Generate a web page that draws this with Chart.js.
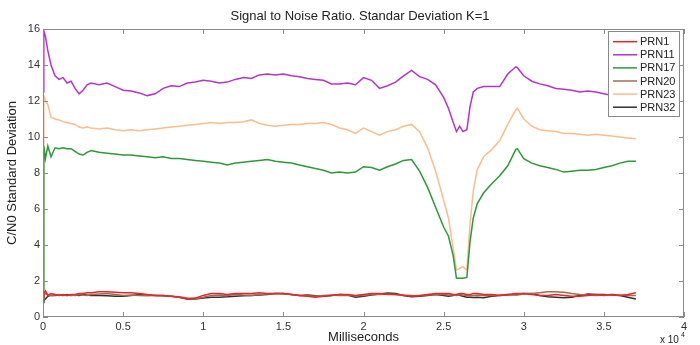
<!DOCTYPE html>
<html><head><meta charset="utf-8">
<script src="https://cdn.jsdelivr.net/npm/chart.js@4.4.1/dist/chart.umd.min.js"></script>
<style>html,body{margin:0;padding:0;background:#fff;}#wrap{width:700px;height:345px;}</style>
</head><body><div id="wrap"><canvas id="c" width="700" height="345"></canvas></div>
<script>
const timesMs = [
  0,50,150,300,500,750,1000,1250,1500,1750,
  2000,2250,2500,2750,3000,3500,4000,4500,5000,5500,
  6000,6500,7000,7500,8000,8500,9000,9500,10000,10500,
  11000,11500,12000,12500,13000,13500,14000,14500,15000,15500,
  16000,16500,17000,17500,18000,18500,19000,19500,20000,20500,
  21000,21500,22000,22500,23000,23500,24000,24500,25000,25300,
  25600,25800,26000,26200,26450,26650,26850,27100,27500,28000,
  28500,29000,29500,29600,30000,30500,31000,31500,32000,32500,
  33000,33500,34000,34500,35000,35500,36000,36500,37000];

const prn1 = [
  1.0,1.3,1.45,1.2,1.3,1.25,1.2,1.25,1.2,1.25,
  1.25,1.3,1.3,1.35,1.35,1.4,1.4,1.38,1.35,1.35,
  1.3,1.25,1.2,1.2,1.15,1.1,1.0,1.05,1.2,1.3,
  1.3,1.25,1.3,1.3,1.3,1.35,1.3,1.3,1.3,1.25,
  1.2,1.15,1.1,1.15,1.2,1.25,1.25,1.2,1.25,1.3,
  1.3,1.25,1.25,1.2,1.15,1.2,1.25,1.3,1.3,1.3,
  1.25,1.25,1.3,1.3,1.25,1.25,1.3,1.3,1.25,1.25,
  1.2,1.25,1.3,1.3,1.3,1.25,1.2,1.2,1.25,1.2,
  1.15,1.15,1.2,1.25,1.2,1.25,1.2,1.25,1.35];

const prn11 = [
  12.5,15.9,15.6,14.8,14.0,13.4,13.2,13.3,13.0,13.1,
  12.7,12.4,12.6,12.9,13.0,12.9,13.0,12.8,12.6,12.55,
  12.45,12.3,12.4,12.7,12.85,12.8,13.0,13.05,13.15,13.1,
  13.0,13.05,13.2,13.3,13.25,13.45,13.5,13.45,13.5,13.4,
  13.35,13.25,13.2,13.15,12.95,12.95,13.0,12.9,13.3,13.15,
  12.7,12.85,13.05,13.4,13.7,13.35,13.2,12.9,12.2,11.6,
  10.8,10.3,10.6,10.3,10.4,11.7,12.5,12.7,12.8,12.8,
  12.8,13.5,13.9,13.85,13.4,13.1,12.95,12.85,12.7,12.65,
  12.6,12.5,12.55,12.5,12.4,12.3,12.25,12.2,12.2];

const prn17 = [
  0.8,9.5,8.8,9.5,8.9,9.4,9.35,9.4,9.35,9.35,
  9.2,9.05,9.0,9.15,9.25,9.15,9.1,9.05,9.0,9.0,
  8.95,8.9,8.85,8.9,8.8,8.8,8.75,8.7,8.65,8.6,
  8.55,8.45,8.55,8.6,8.65,8.7,8.75,8.65,8.6,8.55,
  8.45,8.35,8.25,8.15,8.0,8.05,8.0,8.05,8.35,8.3,
  8.15,8.35,8.5,8.7,8.75,8.1,7.2,6.1,5.0,4.5,
  3.4,2.15,2.15,2.15,2.2,4.2,5.5,6.3,6.9,7.4,
  7.85,8.4,9.3,9.35,8.8,8.55,8.4,8.3,8.2,8.05,
  8.1,8.15,8.15,8.2,8.3,8.4,8.55,8.65,8.65];

const prn20 = [
  1.0,1.2,1.3,1.25,1.2,1.22,1.25,1.22,1.2,1.22,
  1.2,1.25,1.22,1.2,1.25,1.28,1.3,1.25,1.2,1.22,
  1.2,1.18,1.2,1.2,1.15,1.12,1.05,1.02,1.1,1.2,
  1.22,1.2,1.25,1.22,1.2,1.25,1.28,1.3,1.28,1.25,
  1.2,1.18,1.15,1.2,1.22,1.2,1.2,1.18,1.2,1.25,
  1.25,1.28,1.25,1.22,1.2,1.18,1.22,1.25,1.25,1.22,
  1.22,1.2,1.25,1.22,1.2,1.18,1.2,1.22,1.2,1.2,
  1.22,1.25,1.22,1.22,1.28,1.3,1.35,1.4,1.4,1.38,
  1.3,1.25,1.22,1.2,1.22,1.25,1.22,1.2,1.2];

const prn23 = [
  1.0,12.3,12.0,11.8,11.1,11.0,10.95,10.85,10.8,10.75,
  10.7,10.55,10.5,10.55,10.5,10.45,10.5,10.4,10.35,10.4,
  10.35,10.4,10.45,10.5,10.55,10.6,10.65,10.7,10.75,10.8,
  10.75,10.8,10.8,10.85,10.95,10.75,10.65,10.6,10.65,10.7,
  10.7,10.75,10.75,10.8,10.7,10.5,10.4,10.2,10.5,10.3,
  10.1,10.3,10.4,10.6,10.7,10.3,9.4,8.1,6.5,5.5,
  3.8,2.6,2.7,2.8,2.6,5.2,7.0,8.2,8.9,9.3,
  9.8,10.7,11.5,11.6,11.0,10.6,10.4,10.35,10.3,10.2,
  10.2,10.15,10.1,10.15,10.1,10.05,10.0,9.95,9.9];

const prn32 = [
  0.8,0.9,1.0,1.15,1.2,1.2,1.22,1.2,1.25,1.2,
  1.22,1.2,1.25,1.22,1.2,1.2,1.18,1.15,1.15,1.2,
  1.25,1.22,1.2,1.18,1.15,1.1,1.0,1.0,1.05,1.1,
  1.1,1.12,1.15,1.18,1.2,1.22,1.25,1.3,1.3,1.25,
  1.2,1.22,1.18,1.15,1.2,1.25,1.22,1.1,1.15,1.22,
  1.28,1.33,1.3,1.2,1.12,1.15,1.2,1.25,1.2,1.15,
  1.2,1.25,1.2,1.15,1.1,1.1,1.08,1.1,1.07,1.15,
  1.2,1.22,1.25,1.25,1.3,1.3,1.2,1.13,1.1,1.07,
  1.1,1.2,1.28,1.25,1.25,1.22,1.2,1.1,1.0];

const seriesNames = ['PRN1','PRN11','PRN17','PRN20','PRN23','PRN32'];
const seriesValues = [prn1, prn11, prn17, prn20, prn23, prn32];
const seriesColors = ['#e8262b','#b534c8','#2e983a','#a86a4c','#f9bd8e','#303030'];
const xTickValues = [0,5000,10000,15000,20000,25000,30000,35000,40000];
const xTickLabels = ['0','0.5','1','1.5','2','2.5','3','3.5','4'];
const yTickValues = [0,2,4,6,8,10,12,14,16];

const FONT = '"Liberation Sans", Arial, Helvetica, sans-serif';

const datasets = seriesNames.map((name, k) => ({
  label: name,
  data: timesMs.map((t, i) => ({x: t, y: seriesValues[k][i]})),
  borderColor: seriesColors[k],
  backgroundColor: seriesColors[k],
  borderWidth: 1.5,
  pointRadius: 0,
  tension: 0,
  fill: false
}));

const framePlugin = {
  id: 'frame',
  afterDatasetsDraw(chart) {
    const ctx = chart.ctx;
    const a = chart.chartArea;
    const xs = chart.scales.x, ys = chart.scales.y;
    ctx.save();
    ctx.strokeStyle = '#8a8a8a';
    ctx.lineWidth = 1;
    ctx.strokeRect(Math.round(a.left) + 0.5, Math.round(a.top) + 0.5,
                   Math.round(a.right - a.left) - 1, Math.round(a.bottom - a.top) - 1);
    const tl = 5;
    ctx.beginPath();
    xTickValues.forEach(v => {
      const px = Math.round(xs.getPixelForValue(v)) + 0.5;
      ctx.moveTo(px, a.bottom); ctx.lineTo(px, a.bottom - tl);
      ctx.moveTo(px, a.top); ctx.lineTo(px, a.top + tl);
    });
    yTickValues.forEach(v => {
      const py = Math.round(ys.getPixelForValue(v)) + 0.5;
      ctx.moveTo(a.left, py); ctx.lineTo(a.left + tl, py);
      ctx.moveTo(a.right, py); ctx.lineTo(a.right - tl, py);
    });
    ctx.stroke();

    const lx = 608.5, ly = 31.5, lw = 71, lh = 85;
    ctx.fillStyle = '#ffffff';
    ctx.fillRect(lx, ly, lw, lh);
    ctx.strokeStyle = '#8a8a8a';
    ctx.strokeRect(lx, ly, lw, lh);
    ctx.font = '11px ' + FONT;
    ctx.textAlign = 'left';
    ctx.textBaseline = 'middle';
    seriesNames.forEach((name, k) => {
      const y = 41.7 + k * 13.1;
      ctx.strokeStyle = seriesColors[k];
      ctx.lineWidth = 1.5;
      ctx.beginPath(); ctx.moveTo(613, y); ctx.lineTo(637, y); ctx.stroke();
      ctx.fillStyle = '#222';
      ctx.fillText(name, 640, y + 0.5);
    });

    ctx.fillStyle = '#222';
    ctx.textAlign = 'center';
    ctx.textBaseline = 'middle';
    ctx.font = '13px ' + FONT;
    ctx.fillText('Signal to Noise Ratio. Standar Deviation K=1', 360, 16);
    ctx.fillText('Milliseconds', (a.left + a.right) / 2, 337);
    ctx.save();
    ctx.translate(12, (a.top + a.bottom) / 2);
    ctx.rotate(-Math.PI / 2);
    ctx.fillText('C/N0 Standard Deviation', 0, 0);
    ctx.restore();
    ctx.font = '10px ' + FONT;
    ctx.textAlign = 'left';
    ctx.fillText('x 10', 660, 340);
    ctx.font = '7px ' + FONT;
    ctx.fillText('4', 681, 335);
    ctx.restore();
  }
};

new Chart(document.getElementById('c'), {
  type: 'line',
  data: { datasets },
  options: {
    responsive: false,
    animation: false,
    devicePixelRatio: 1,
    layout: { padding: { top: 29, right: 16, left: 0, bottom: 0 } },
    plugins: { legend: { display: false }, title: { display: false }, tooltip: { enabled: false } },
    scales: {
      x: {
        type: 'linear', min: 0, max: 40000,
        afterBuildTicks: s => { s.ticks = xTickValues.map(v => ({value: v})); },
        ticks: {
          autoSkip: false, maxRotation: 0,
          callback: (v) => { const i = xTickValues.indexOf(v); return i >= 0 ? xTickLabels[i] : ''; },
          font: { family: FONT, size: 11 }, color: '#333', padding: 3
        },
        grid: { display: false, drawTicks: false },
        border: { display: false },
        afterFit: s => { s.height = 28; }
      },
      y: {
        type: 'linear', min: 0, max: 16,
        afterBuildTicks: s => { s.ticks = yTickValues.map(v => ({value: v})); },
        ticks: {
          autoSkip: false,
          callback: v => String(v),
          font: { family: FONT, size: 11 }, color: '#333', padding: 3
        },
        grid: { display: false, drawTicks: false },
        border: { display: false },
        afterFit: s => { s.width = 43; }
      }
    }
  },
  plugins: [framePlugin]
});
</script>
</body></html>
